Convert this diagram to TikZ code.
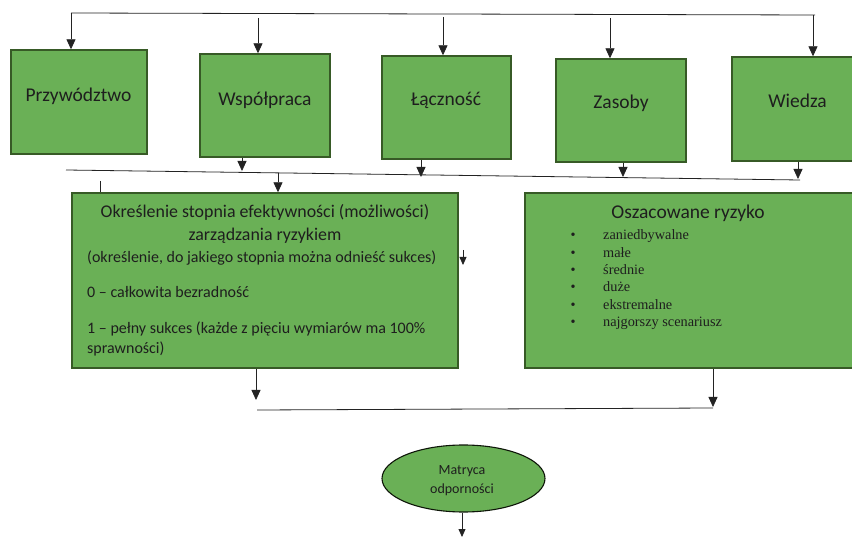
\documentclass[tikz,border=0pt]{standalone}
\usepackage{fontspec}
\setmainfont{Carlito}
\newfontfamily\tms{Liberation Serif}
\usetikzlibrary{arrows.meta,shapes.geometric}
\definecolor{gfill}{RGB}{106,176,86}
\definecolor{gdraw}{RGB}{55,90,38}
\definecolor{txt}{RGB}{30,30,30}
\definecolor{ln}{RGB}{35,35,35}
\tikzset{
  box/.style={draw=gdraw,fill=gfill,line width=1.4pt,inner sep=0pt},
  lab/.style={anchor=base,inner sep=0pt,text=txt,font=\fontsize{19.5}{23}\selectfont},
  body/.style={anchor=base west,inner sep=0pt,text=txt,font=\fontsize{16}{19}\selectfont},
  bodyc/.style={anchor=base,inner sep=0pt,text=txt,font=\fontsize{17.9}{21}\selectfont},
  item/.style={anchor=base west,inner sep=0pt,text=txt,font=\tms\fontsize{14.3}{17}\selectfont},
  conn/.style={draw=ln,line width=0.8pt},
  arr/.style={conn,-{Triangle[width=9pt,length=10pt]}},
  sarr/.style={conn,-{Triangle[width=7pt,length=8pt]}}
}
\begin{document}
\begin{tikzpicture}[x=1pt,y=-1pt]
\useasboundingbox (0,0) rectangle (852,537);
% boxes
\node[box,minimum width=136pt,minimum height=104pt] (p) at (79,102) {};
\node[box,minimum width=130pt,minimum height=103pt] (w) at (265,105.5) {};
\node[box,minimum width=129pt,minimum height=103pt] (l) at (446.5,107.5) {};
\node[box,minimum width=130pt,minimum height=103pt] (z) at (621,110.5) {};
\node[box,minimum width=130pt,minimum height=104pt] (wi) at (797,109) {};
\node[box,minimum width=386pt,minimum height=175pt] (okr) at (265,280.5) {};
\node[box,minimum width=331pt,minimum height=175pt] (osz) at (690.5,280.5) {};
\node[box,ellipse,line width=1.1pt,draw=black!75!gdraw,minimum width=163pt,minimum height=67pt] (ell) at (463.5,478.5) {};
% labels
\node[lab] (tp) at (78.5,102) {Przywództwo};
\node[lab] (tw) at (265,106) {Współpraca};
\node[lab] (tl) at (446,106) {Łączność};
\node[lab] (tz) at (621,109) {Zasoby};
\node[lab] (twi) at (797.5,108) {Wiedza};
\node[bodyc] (o1) at (265,218) {Określenie stopnia efektywności (możliwości)};
\node[bodyc] (o2) at (265,241) {zarządzania ryzykiem};
\node[body] (o3) at (87,263) {(określenie, do jakiego stopnia można odnieść sukces)};
\node[body] (o4) at (87,298) {0 – całkowita bezradność};
\node[body] (o5) at (87,334) {1 – pełny sukces (każde z pięciu wymiarów ma 100\%};
\node[body] (o6) at (87,354) {sprawności)};
\node[lab] (s0) at (688,219) {Oszacowane ryzyko};
\foreach \t/\yy [count=\i] in {zaniedbywalne/240,małe/257.5,średnie/275,duże/292,ekstremalne/309.5,najgorszy scenariusz/327}{
  \node[item,anchor=base] (b\i) at (573,\yy) {•};
  \node[item] (s\i) at (603,\yy) {\t};
}
\node[anchor=base,inner sep=0pt,text=txt,font=\fontsize{14}{17}\selectfont] (m1) at (462,475) {Matryca};
\node[anchor=base,inner sep=0pt,text=txt,font=\fontsize{14}{17}\selectfont] (m2) at (462,493) {odporności};
% top bus
\coordinate (t1) at (71,13);
\coordinate (t2) at (815,15);
\coordinate (a2) at (258,18);
\coordinate (a3) at (443,17);
\coordinate (a4) at (610,18);
\coordinate (a5) at (813,15);
\draw[conn] (t1) -- (t2);
\draw[arr] (t1) -- (t1 |- p.north);
\draw[arr] (a2) -- (a2 |- w.north);
\draw[arr] (a3) -- (a3 |- l.north);
\draw[arr] (a4) -- (a4 |- z.north);
\draw[arr] (a5) -- (a5 |- wi.north);
% middle bus
\coordinate (m0) at (66,170);
\coordinate (m9) at (800,180);
\draw[conn] (m0) -- (m9);
\coordinate (c2) at (242,171);
\coordinate (c3) at (421,177);
\coordinate (c4) at (623,177);
\coordinate (c5) at (798,179);
\draw[arr] (c2 |- w.south) -- (c2);
\draw[arr] (c3 |- l.south) -- (c3);
\draw[arr] (c4 |- z.south) -- (c4);
\draw[arr] (c5 |- wi.south) -- (c5);
\coordinate (d1) at (278,173);
\draw[arr] (d1) -- (d1 |- okr.north);
\coordinate (k1) at (100,181);
\draw[conn] (k1) -- (k1 |- okr.north);
\coordinate (r1) at (463,250);
\coordinate (r2) at (463,265);
\draw[sarr] (r1) -- (r2);
% bottom bus
\coordinate (e1) at (256,400);
\coordinate (e2) at (713,407);
\draw[arr] (e1 |- okr.south) -- (e1);
\draw[arr] (e2 |- osz.south) -- (e2);
\coordinate (f1) at (257,410);
\coordinate (f2) at (713,408);
\draw[conn] (f1) -- (f2);
\coordinate (g1) at (462,537);
\draw[sarr] (g1 |- ell.south) -- (g1);
\end{tikzpicture}
\end{document}
